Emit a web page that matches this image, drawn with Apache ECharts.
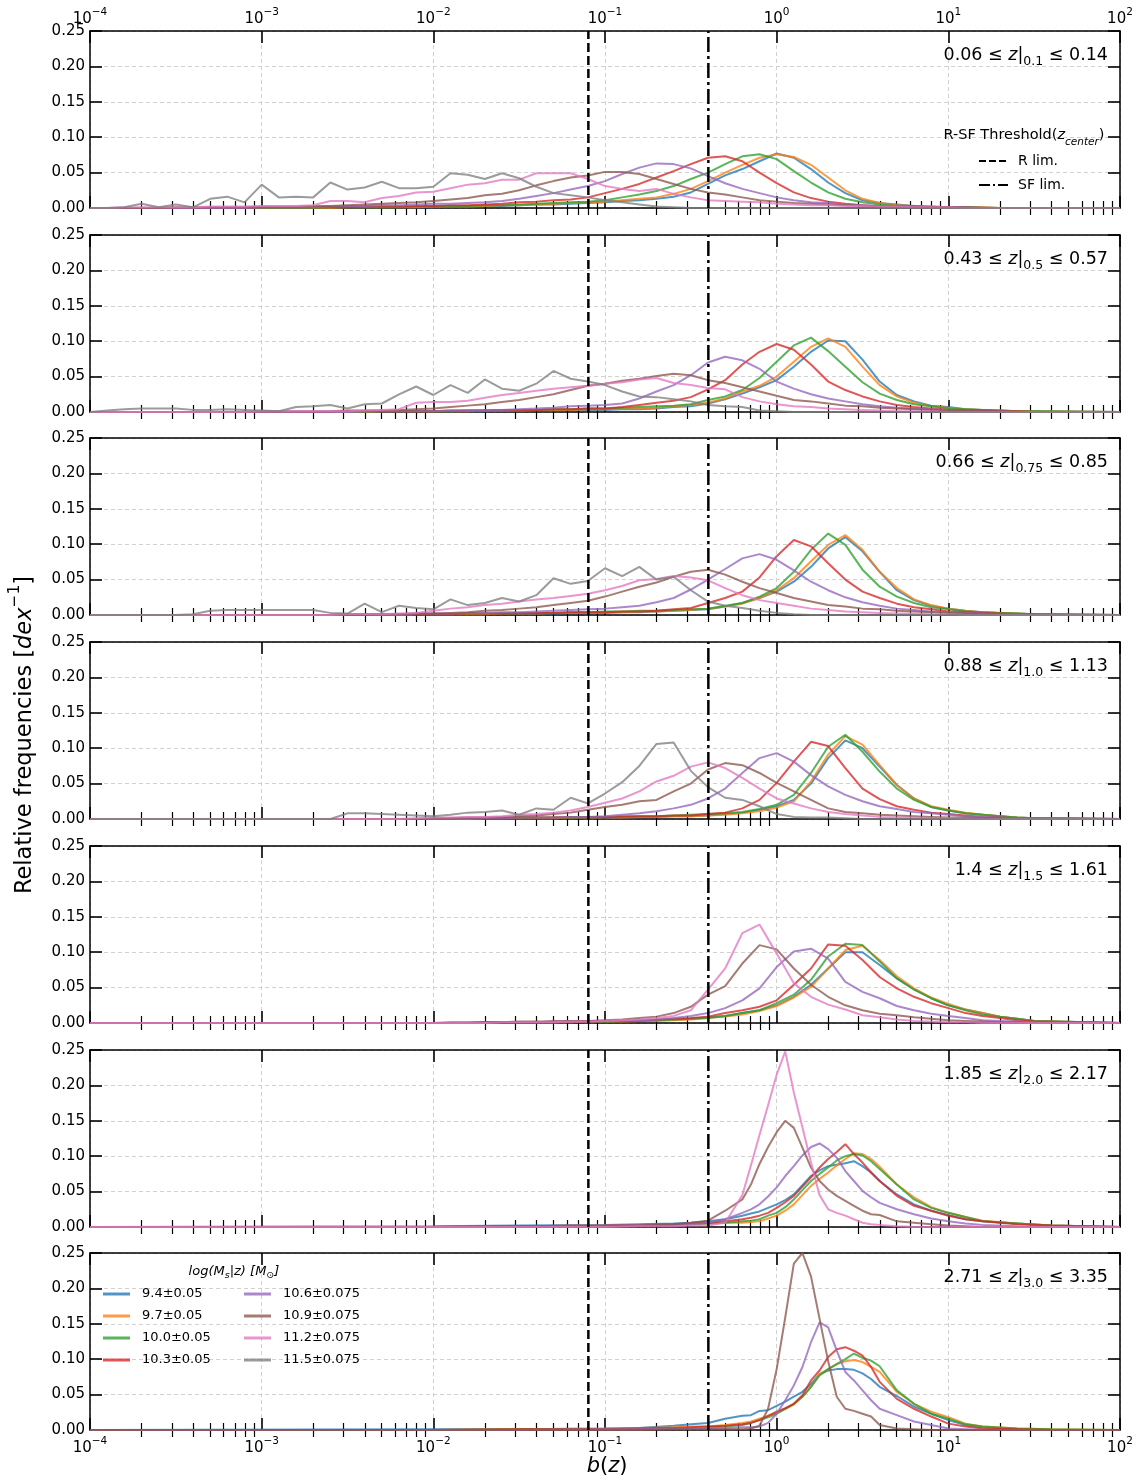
<!DOCTYPE html>
<html><head><meta charset="utf-8">
<script src="https://cdn.jsdelivr.net/npm/echarts@6/dist/echarts.min.js"></script>
<style>html,body{margin:0;padding:0;background:#fff}#c{width:1146px;height:1483px}</style>
</head><body><div id="c"></div>
<script>
// ---------- DATA (x values are log10 b(z)) ----------
const LOGB_A = [-4.0,-3.9,-3.8,-3.7,-3.6,-3.5,-3.4,-3.3,-3.2,-3.1,-3.0,-2.9,-2.8,-2.7,-2.6,-2.5,-2.4,-2.3,-2.2,-2.1,-2.0,-1.9,-1.8,-1.7,-1.6,-1.5,-1.4,-1.3,-1.2,-1.1,-1.0,-0.9,-0.8,-0.7,-0.6,-0.5,-0.4,-0.3,-0.2,-0.1,0.0,0.1,0.2,0.3,0.4,0.5,0.6,0.7,0.8,0.9,1.0,1.1,1.2,1.3,1.4,1.5,2.0];
const LOGB_B = [-4.0,-2.0,-1.5,-1.0,-0.8,-0.6,-0.5,-0.4,-0.3,-0.2,-0.15,-0.1,-0.05,0.0,0.05,0.1,0.15,0.2,0.25,0.3,0.35,0.4,0.45,0.5,0.55,0.6,0.7,0.8,0.9,1.0,1.1,1.2,1.4,1.6,2.0];

const MASS_NAMES = ['9.4±0.05','9.7±0.05','10.0±0.05','10.3±0.05','10.6±0.075','10.9±0.075','11.2±0.075','11.5±0.075'];
const Z_RANGES = [['0.06','0.1','0.14'],['0.43','0.5','0.57'],['0.66','0.75','0.85'],['0.88','1.0','1.13'],['1.4','1.5','1.61'],['1.85','2.0','2.17'],['2.71','3.0','3.35']];
const R_LIM = 0.08, SF_LIM = 0.4;
const Y_TICKS = [0, 0.05, 0.10, 0.15, 0.20, 0.25];

// Panel 1
const P1_M94  = [0,0,0,0,0,0,0,0,0,0, 0,0,0,0,0,0.001,0.001,0.001,0.001,0.001, 0.001,0.002,0.002,0.003,0.003,0.004,0.005,0.005,0.006,0.007, 0.008,0.010,0.011,0.013,0.016,0.022,0.034,0.046,0.055,0.066, 0.077,0.071,0.055,0.036,0.021,0.011,0.007,0.005,0.003,0.002, 0.001,0.001,0.001,0,0,0, 0];
const P1_M97  = [0,0,0,0,0,0,0,0,0,0, 0,0,0,0,0,0.001,0.001,0.001,0.001,0.001, 0.002,0.002,0.002,0.003,0.004,0.004,0.005,0.006,0.007,0.008, 0.009,0.011,0.013,0.015,0.020,0.027,0.038,0.050,0.061,0.071, 0.076,0.072,0.061,0.043,0.025,0.013,0.007,0.004,0.003,0.002, 0.001,0.001,0.001,0,0,0, 0];
const P1_M100 = [0,0,0,0,0,0,0,0,0,0, 0,0,0,0,0.001,0.001,0.001,0.001,0.001,0.002, 0.002,0.003,0.003,0.004,0.004,0.005,0.006,0.007,0.008,0.009, 0.011,0.015,0.019,0.024,0.031,0.041,0.050,0.062,0.073,0.076, 0.069,0.052,0.036,0.022,0.013,0.008,0.005,0.003,0.002,0.001, 0.001,0.001,0,0,0,0, 0];
const P1_M103 = [0,0,0,0,0,0,0,0,0,0, 0.001,0.001,0.001,0.001,0.001,0.001,0.002,0.002,0.002,0.003, 0.003,0.004,0.004,0.005,0.006,0.008,0.009,0.011,0.012,0.015, 0.021,0.027,0.034,0.043,0.052,0.062,0.071,0.073,0.066,0.050, 0.035,0.022,0.014,0.009,0.006,0.004,0.002,0.002,0.001,0.001, 0.001,0,0,0,0,0, 0];
const P1_M106 = [0,0,0,0,0,0,0,0,0,0, 0.001,0.001,0.001,0.001,0.002,0.003,0.003,0.004,0.004,0.005, 0.006,0.006,0.007,0.008,0.010,0.013,0.017,0.021,0.026,0.031, 0.038,0.048,0.057,0.063,0.062,0.056,0.045,0.035,0.027,0.021, 0.015,0.011,0.008,0.007,0.005,0.004,0.003,0.002,0.002,0.001, 0.001,0.001,0,0,0,0, 0];
const P1_M109 = [0,0,0,0,0,0.001,0.001,0.001,0.001,0.001, 0.002,0.002,0.002,0.003,0.003,0.004,0.005,0.006,0.007,0.008, 0.010,0.012,0.014,0.018,0.020,0.025,0.032,0.038,0.043,0.046, 0.051,0.051,0.048,0.041,0.034,0.027,0.022,0.019,0.015,0.011, 0.009,0.007,0.006,0.005,0.004,0.003,0.003,0.002,0.002,0.001, 0.001,0.001,0,0,0,0, 0];
const P1_M112 = [0,0,0.001,0.001,0.001,0.001,0.001,0.002,0.002,0.002, 0.003,0.003,0.003,0.004,0.010,0.010,0.008,0.014,0.017,0.022, 0.023,0.028,0.033,0.035,0.040,0.040,0.049,0.049,0.049,0.041, 0.031,0.027,0.024,0.027,0.020,0.015,0.011,0.010,0.009,0.008, 0.006,0.005,0.004,0.004,0.003,0.003,0.002,0.002,0.001,0.001, 0.001,0,0,0,0,0, 0];
const P1_M115 = [0,0,0.001,0.006,0.001,0.005,0.001,0.013,0.016,0.008, 0.033,0.015,0.016,0.015,0.036,0.026,0.029,0.037,0.028,0.028, 0.030,0.049,0.047,0.041,0.049,0.042,0.030,0.021,0.018,0.015, 0.011,0.008,0.005,0.002,0.001,0,0,0,0,0, 0,0,0,0,0,0,0,0,0,0, 0,0,0,0,0,0, 0];

// Panel 2
const P2_M94  = [0,0,0,0,0,0,0,0,0,0, 0,0,0,0,0,0,0,0.001,0.001,0.001, 0.001,0.001,0.001,0.001,0.002,0.002,0.002,0.002,0.003,0.003, 0.003,0.004,0.004,0.005,0.007,0.008,0.012,0.018,0.026,0.035, 0.045,0.064,0.085,0.101,0.100,0.074,0.043,0.024,0.015,0.009, 0.007,0.004,0.003,0.002,0.001,0.001, 0];
const P2_M97  = [0,0,0,0,0,0,0,0,0,0, 0,0,0,0,0,0,0,0.001,0.001,0.001, 0.001,0.001,0.001,0.002,0.002,0.002,0.003,0.003,0.003,0.004, 0.004,0.005,0.005,0.006,0.008,0.010,0.013,0.019,0.029,0.037, 0.050,0.071,0.092,0.104,0.092,0.064,0.038,0.022,0.013,0.008, 0.006,0.004,0.003,0.002,0.001,0.001, 0];
const P2_M100 = [0,0,0,0,0,0,0,0,0,0, 0,0,0,0,0,0,0,0.001,0.001,0.001, 0.001,0.001,0.002,0.002,0.002,0.003,0.003,0.004,0.004,0.005, 0.005,0.006,0.007,0.008,0.009,0.011,0.017,0.022,0.031,0.048, 0.071,0.094,0.105,0.086,0.064,0.042,0.026,0.017,0.011,0.008, 0.005,0.004,0.003,0.002,0.001,0.001, 0];
const P2_M103 = [0,0,0,0,0,0,0,0,0,0, 0,0,0,0,0,0.001,0.001,0.001,0.001,0.001, 0.001,0.002,0.002,0.002,0.003,0.003,0.003,0.004,0.004,0.005, 0.005,0.007,0.010,0.013,0.016,0.021,0.032,0.045,0.067,0.085, 0.096,0.088,0.067,0.043,0.031,0.022,0.015,0.010,0.007,0.005, 0.003,0.002,0.002,0.001,0.001,0, 0];
const P2_M106 = [0,0,0,0,0,0,0,0,0,0, 0,0,0,0,0,0,0.001,0.001,0.001,0.001, 0.001,0.002,0.002,0.002,0.003,0.004,0.005,0.006,0.008,0.009, 0.010,0.012,0.019,0.029,0.038,0.052,0.070,0.078,0.073,0.061, 0.043,0.033,0.025,0.019,0.015,0.011,0.008,0.006,0.005,0.004, 0.003,0.002,0.001,0.001,0,0, 0];
const P2_M109 = [0,0,0,0,0,0,0,0,0,0, 0.001,0.001,0.001,0.001,0.001,0.002,0.002,0.002,0.003,0.004, 0.005,0.007,0.009,0.011,0.014,0.017,0.021,0.025,0.031,0.037, 0.040,0.044,0.047,0.051,0.054,0.052,0.045,0.041,0.035,0.029, 0.023,0.017,0.015,0.012,0.009,0.008,0.006,0.005,0.004,0.003, 0.002,0.002,0.001,0.001,0,0, 0];
const P2_M112 = [0,0,0,0,0,0,0,0,0,0, 0.001,0.001,0.001,0.001,0.001,0.001,0.002,0.003,0.004,0.013, 0.014,0.014,0.016,0.020,0.024,0.027,0.030,0.033,0.035,0.037, 0.040,0.042,0.046,0.048,0.041,0.038,0.034,0.032,0.021,0.015, 0.011,0.008,0.007,0.005,0.004,0.003,0.002,0.001,0.001,0.001, 0,0,0,0,0,0, 0];
const P2_M115 = [0,0.002,0.004,0.005,0.005,0.005,0.003,0.003,0.004,0.003, 0.002,0.001,0.007,0.008,0.010,0.005,0.011,0.012,0.025,0.036, 0.024,0.038,0.027,0.046,0.033,0.030,0.040,0.058,0.047,0.043, 0.038,0.029,0.022,0.021,0.018,0.015,0.010,0.008,0.007,0.002, 0.001,0,0,0,0,0,0,0,0,0, 0,0,0,0,0,0, 0];

// Panel 3
const P3_M94  = [0,0,0,0,0,0,0,0,0,0, 0,0,0,0,0,0,0,0,0,0.001, 0.001,0.001,0.001,0.001,0.002,0.002,0.002,0.002,0.003,0.003, 0.003,0.004,0.004,0.005,0.006,0.007,0.008,0.012,0.017,0.024, 0.033,0.047,0.068,0.094,0.110,0.090,0.061,0.035,0.021,0.013, 0.009,0.006,0.004,0.003,0.002,0.001, 0];
const P3_M97  = [0,0,0,0,0,0,0,0,0,0, 0,0,0,0,0,0,0,0,0,0.001, 0.001,0.001,0.001,0.001,0.002,0.002,0.002,0.003,0.003,0.003, 0.004,0.004,0.005,0.005,0.006,0.007,0.009,0.012,0.016,0.024, 0.035,0.052,0.076,0.099,0.113,0.092,0.061,0.038,0.022,0.014, 0.009,0.006,0.004,0.003,0.002,0.001, 0];
const P3_M100 = [0,0,0,0,0,0,0,0,0,0, 0,0,0,0,0,0,0,0,0.001,0.001, 0.001,0.001,0.002,0.002,0.002,0.003,0.003,0.003,0.004,0.004, 0.005,0.005,0.006,0.006,0.007,0.008,0.009,0.013,0.017,0.026, 0.038,0.061,0.092,0.115,0.099,0.064,0.040,0.026,0.017,0.011, 0.008,0.005,0.004,0.003,0.002,0.001, 0];
const P3_M103 = [0,0,0,0,0,0,0,0,0,0, 0,0,0,0,0,0,0,0.001,0.001,0.001, 0.001,0.001,0.002,0.002,0.002,0.003,0.003,0.003,0.004,0.004, 0.004,0.005,0.005,0.006,0.008,0.010,0.017,0.024,0.033,0.053, 0.083,0.106,0.097,0.073,0.050,0.033,0.024,0.016,0.011,0.008, 0.005,0.004,0.003,0.002,0.001,0.001, 0];
const P3_M106 = [0,0,0,0,0,0,0,0,0,0, 0,0,0,0,0,0.001,0.001,0.001,0.001,0.002, 0.002,0.002,0.003,0.003,0.004,0.004,0.005,0.006,0.007,0.008, 0.009,0.011,0.013,0.018,0.024,0.036,0.050,0.065,0.080,0.086, 0.078,0.063,0.047,0.035,0.025,0.018,0.013,0.009,0.007,0.005, 0.004,0.003,0.002,0.001,0.001,0, 0];
const P3_M109 = [0,0,0,0,0,0,0,0,0,0, 0,0,0,0,0,0.001,0.001,0.001,0.001,0.002, 0.002,0.003,0.004,0.006,0.007,0.009,0.011,0.014,0.017,0.020, 0.026,0.033,0.040,0.046,0.054,0.061,0.064,0.057,0.047,0.038, 0.031,0.024,0.019,0.014,0.012,0.009,0.008,0.006,0.005,0.004, 0.003,0.002,0.001,0.001,0,0, 0];
const P3_M112 = [0,0,0,0,0,0,0,0,0,0, 0,0,0,0,0,0.001,0.001,0.001,0.002,0.003, 0.006,0.009,0.011,0.014,0.016,0.019,0.022,0.024,0.027,0.030, 0.035,0.041,0.049,0.051,0.055,0.053,0.049,0.038,0.028,0.021, 0.017,0.013,0.009,0.007,0.005,0.004,0.003,0.002,0.002,0.001, 0.001,0,0,0,0,0, 0];
const P3_M115 = [0,0,0,0,0,0,0.001,0.006,0.007,0.007, 0.007,0.007,0.007,0.007,0.003,0.002,0.016,0.004,0.013,0.010, 0.008,0.022,0.014,0.017,0.024,0.019,0.028,0.052,0.044,0.048, 0.066,0.055,0.068,0.050,0.054,0.035,0.019,0.013,0.010,0.006, 0.003,0.001,0,0,0,0,0,0,0,0, 0,0,0,0,0,0, 0];

// Panel 4
const P4_M94  = [0,0,0,0,0,0,0,0,0,0, 0,0,0,0,0,0,0,0,0,0, 0,0,0,0.001,0.001,0.001,0.001,0.001,0.002,0.002, 0.002,0.002,0.003,0.003,0.004,0.004,0.005,0.007,0.009,0.013, 0.018,0.027,0.050,0.086,0.111,0.100,0.074,0.048,0.029,0.017, 0.012,0.008,0.006,0.004,0.002,0.001, 0];
const P4_M97  = [0,0,0,0,0,0,0,0,0,0, 0,0,0,0,0,0,0,0,0,0, 0,0,0,0.001,0.001,0.001,0.001,0.001,0.002,0.002, 0.002,0.002,0.003,0.003,0.004,0.004,0.005,0.006,0.008,0.011, 0.016,0.025,0.053,0.091,0.117,0.105,0.076,0.048,0.029,0.018, 0.013,0.009,0.006,0.004,0.002,0.001, 0];
const P4_M100 = [0,0,0,0,0,0,0,0,0,0, 0,0,0,0,0,0,0,0,0,0, 0,0,0.001,0.001,0.001,0.001,0.002,0.002,0.002,0.003, 0.003,0.003,0.004,0.004,0.005,0.006,0.007,0.008,0.010,0.014, 0.020,0.034,0.065,0.102,0.119,0.095,0.067,0.043,0.027,0.017, 0.012,0.008,0.006,0.004,0.002,0.001, 0];
const P4_M103 = [0,0,0,0,0,0,0,0,0,0, 0,0,0,0,0,0,0,0,0,0, 0,0.001,0.001,0.001,0.001,0.002,0.002,0.002,0.003,0.003, 0.003,0.004,0.004,0.004,0.005,0.005,0.007,0.009,0.015,0.027, 0.051,0.081,0.109,0.103,0.072,0.043,0.028,0.018,0.013,0.009, 0.007,0.005,0.003,0.002,0.001,0.001, 0];
const P4_M106 = [0,0,0,0,0,0,0,0,0,0, 0,0,0,0,0,0,0,0,0,0, 0,0.001,0.001,0.001,0.001,0.002,0.002,0.002,0.003,0.003, 0.004,0.006,0.008,0.011,0.015,0.020,0.029,0.043,0.065,0.086, 0.093,0.081,0.062,0.046,0.034,0.025,0.018,0.014,0.010,0.008, 0.006,0.004,0.003,0.002,0.001,0.001, 0];
const P4_M109 = [0,0,0,0,0,0,0,0,0,0, 0,0,0,0,0,0,0,0,0,0, 0.001,0.001,0.002,0.002,0.003,0.004,0.005,0.007,0.009,0.013, 0.017,0.020,0.025,0.027,0.039,0.050,0.070,0.079,0.076,0.065, 0.051,0.039,0.027,0.015,0.010,0.008,0.006,0.005,0.004,0.003, 0.002,0.002,0.001,0.001,0,0, 0];
const P4_M112 = [0,0,0,0,0,0,0,0,0,0, 0,0,0,0,0,0,0,0,0,0.001, 0.002,0.002,0.003,0.003,0.004,0.006,0.007,0.009,0.012,0.017, 0.023,0.029,0.039,0.053,0.061,0.074,0.080,0.072,0.058,0.043, 0.029,0.022,0.015,0.010,0.007,0.005,0.003,0.002,0.002,0.001, 0.001,0,0,0,0,0, 0];
const P4_M115 = [0,0,0,0,0,0,0,0,0,0, 0,0,0,0,0,0.008,0.008,0.007,0.006,0.005, 0.004,0.006,0.009,0.010,0.012,0.006,0.015,0.013,0.030,0.022, 0.036,0.052,0.075,0.106,0.108,0.068,0.045,0.030,0.027,0.018, 0.007,0.003,0.002,0.002,0.001,0,0,0,0,0, 0,0,0,0,0,0, 0];

// Panel 5
const P5_M94  = [0,0,0,0,0,0,0,0,0,0, 0,0,0,0,0,0,0,0,0,0, 0,0,0,0,0.001,0.001,0.001,0.001,0.002,0.002, 0.002,0.003,0.003,0.004,0.005,0.006,0.008,0.010,0.014,0.018, 0.025,0.037,0.054,0.077,0.100,0.100,0.082,0.063,0.048,0.035, 0.025,0.019,0.014,0.009,0.006,0.003, 0];
const P5_M97  = [0,0,0,0,0,0,0,0,0,0, 0,0,0,0,0,0,0,0,0,0, 0,0,0,0,0.001,0.001,0.001,0.001,0.001,0.002, 0.002,0.002,0.003,0.003,0.004,0.005,0.007,0.009,0.012,0.017, 0.024,0.036,0.051,0.077,0.103,0.109,0.089,0.066,0.049,0.036, 0.027,0.019,0.014,0.009,0.006,0.003, 0];
const P5_M100 = [0,0,0,0,0,0,0,0,0,0, 0,0,0,0,0,0,0,0,0,0, 0,0,0,0,0.001,0.001,0.001,0.001,0.002,0.002, 0.002,0.003,0.003,0.004,0.005,0.006,0.007,0.010,0.014,0.018, 0.028,0.040,0.061,0.094,0.112,0.110,0.087,0.063,0.047,0.035, 0.025,0.018,0.012,0.009,0.006,0.003, 0];
const P5_M103 = [0,0,0,0,0,0,0,0,0,0, 0,0,0,0,0,0,0,0,0,0, 0,0,0,0.001,0.001,0.001,0.001,0.002,0.002,0.002, 0.003,0.003,0.004,0.005,0.006,0.007,0.009,0.014,0.018,0.023, 0.032,0.054,0.077,0.111,0.109,0.089,0.065,0.049,0.037,0.028, 0.021,0.014,0.010,0.007,0.004,0.002, 0];
const P5_M106 = [0,0,0,0,0,0,0,0,0,0, 0,0,0,0,0,0,0,0,0,0, 0,0,0,0.001,0.001,0.001,0.001,0.002,0.002,0.002, 0.003,0.003,0.004,0.005,0.007,0.010,0.014,0.021,0.032,0.049, 0.079,0.101,0.105,0.091,0.058,0.044,0.035,0.024,0.018,0.013, 0.010,0.007,0.004,0.003,0.002,0.001, 0];
const P5_M109 = [0,0,0,0,0,0,0,0,0,0, 0,0,0,0,0,0,0,0,0,0, 0,0.001,0.001,0.001,0.001,0.002,0.002,0.002,0.003,0.003, 0.004,0.005,0.007,0.009,0.014,0.023,0.040,0.052,0.084,0.110, 0.104,0.077,0.054,0.037,0.025,0.018,0.013,0.011,0.008,0.006, 0.004,0.003,0.002,0.001,0.001,0, 0];
const P5_M112 = [0,0,0,0,0,0,0,0,0,0, 0,0,0,0,0,0,0,0,0,0, 0,0,0,0,0.001,0.001,0.001,0.001,0.002,0.002, 0.003,0.004,0.005,0.007,0.010,0.018,0.047,0.077,0.127,0.139, 0.098,0.056,0.037,0.026,0.019,0.011,0.008,0.005,0.003,0.002, 0.001,0.001,0,0,0,0, 0];

// Panel 6 (on LOGB_B)
const P6_M94  = [0,0.001,0.002,0.003,0.004,0.005, 0.006,0.008,0.011,0.016,0.019,0.022,0.027, 0.032,0.038,0.046,0.059,0.072,0.080,0.086,0.088,0.090,0.093,0.086,0.077,0.065, 0.046,0.032,0.023,0.017,0.011,0.008,0.005,0.002,0];
const P6_M97  = [0,0,0.001,0.002,0.003,0.003, 0.004,0.005,0.006,0.006,0.007,0.008,0.012, 0.016,0.023,0.032,0.045,0.058,0.068,0.077,0.087,0.096,0.104,0.103,0.096,0.085, 0.060,0.042,0.028,0.020,0.014,0.009,0.005,0.002,0];
const P6_M100 = [0,0,0.001,0.002,0.003,0.003, 0.004,0.005,0.006,0.008,0.009,0.011,0.016, 0.020,0.028,0.039,0.052,0.065,0.075,0.084,0.094,0.100,0.103,0.101,0.093,0.082, 0.060,0.039,0.027,0.020,0.014,0.008,0.005,0.002,0];
const P6_M103 = [0,0,0.001,0.002,0.003,0.004, 0.005,0.006,0.008,0.011,0.013,0.016,0.020, 0.027,0.035,0.044,0.057,0.070,0.084,0.096,0.106,0.117,0.103,0.091,0.077,0.065, 0.044,0.030,0.023,0.016,0.011,0.008,0.004,0.002,0];
const P6_M106 = [0,0,0.001,0.002,0.003,0.004, 0.004,0.006,0.011,0.020,0.025,0.032,0.043, 0.056,0.072,0.086,0.101,0.113,0.118,0.110,0.098,0.079,0.065,0.051,0.042,0.034, 0.025,0.018,0.012,0.008,0.005,0.003,0.001,0,0];
const P6_M109 = [0,0,0.001,0.001,0.002,0.004, 0.006,0.009,0.023,0.039,0.060,0.089,0.113, 0.134,0.150,0.140,0.112,0.084,0.065,0.053,0.044,0.037,0.030,0.023,0.018,0.017, 0.008,0.006,0.004,0.002,0.001,0,0,0,0];
const P6_M112 = [0,0,0,0,0.001,0.001, 0.002,0.002,0.006,0.045,0.087,0.130,0.172, 0.215,0.248,0.190,0.141,0.091,0.045,0.025,0.020,0.016,0.011,0.006,0.004,0.003, 0.001,0,0,0,0,0,0,0,0];

// Panel 7 (on LOGB_B)
const P7_M94  = [0,0.001,0.001,0.002,0.003,0.006, 0.008,0.010,0.016,0.020,0.021,0.027,0.028, 0.034,0.040,0.047,0.054,0.065,0.079,0.084,0.086,0.086,0.085,0.080,0.072,0.061, 0.048,0.033,0.023,0.014,0.007,0.004,0.001,0,0];
const P7_M97  = [0,0,0.001,0.002,0.003,0.004, 0.005,0.005,0.007,0.010,0.012,0.016,0.020, 0.024,0.030,0.036,0.047,0.061,0.079,0.086,0.093,0.097,0.099,0.096,0.089,0.082, 0.054,0.037,0.026,0.018,0.009,0.005,0.002,0.001,0];
const P7_M100 = [0,0,0.001,0.001,0.002,0.003, 0.003,0.004,0.005,0.007,0.010,0.014,0.018, 0.023,0.030,0.037,0.047,0.061,0.077,0.086,0.093,0.100,0.108,0.102,0.098,0.090, 0.056,0.037,0.023,0.016,0.008,0.005,0.002,0.001,0];
const P7_M103 = [0,0,0.001,0.001,0.002,0.003, 0.004,0.005,0.006,0.008,0.010,0.014,0.020, 0.026,0.031,0.037,0.049,0.070,0.084,0.103,0.114,0.117,0.112,0.105,0.089,0.068, 0.044,0.030,0.019,0.009,0.005,0.002,0.001,0,0];
const P7_M106 = [0,0,0,0.001,0.001,0.002, 0.002,0.003,0.003,0.004,0.004,0.005,0.010, 0.023,0.042,0.063,0.089,0.124,0.152,0.145,0.112,0.082,0.070,0.056,0.042,0.030, 0.021,0.012,0.007,0.002,0.001,0,0,0,0];
const P7_M109 = [0,0,0,0,0,0.001, 0.001,0.001,0.001,0.001,0.002,0.006,0.030, 0.086,0.159,0.235,0.250,0.217,0.157,0.097,0.047,0.030,0.027,0.023,0.019,0.007, 0.002,0.001,0,0,0,0,0,0,0];

// ---------- STYLE / LAYOUT ----------
const FONT = 'DejaVu Sans';
const COLORS = ['rgba(31,119,180,0.78)','rgba(255,127,14,0.78)','rgba(44,160,44,0.78)','rgba(214,39,40,0.78)','rgba(148,103,189,0.78)','rgba(140,86,75,0.78)','rgba(227,119,194,0.78)','rgba(127,127,127,0.78)'];
const PANEL_TOPS = [31, 235, 438, 642, 846, 1050, 1253];
const PANEL_H = 177, PLOT_LEFT = 90, PLOT_W = 1030;

const PANELS = [
  {x: LOGB_A, ys: [P1_M94,P1_M97,P1_M100,P1_M103,P1_M106,P1_M109,P1_M112,P1_M115]},
  {x: LOGB_A, ys: [P2_M94,P2_M97,P2_M100,P2_M103,P2_M106,P2_M109,P2_M112,P2_M115]},
  {x: LOGB_A, ys: [P3_M94,P3_M97,P3_M100,P3_M103,P3_M106,P3_M109,P3_M112,P3_M115]},
  {x: LOGB_A, ys: [P4_M94,P4_M97,P4_M100,P4_M103,P4_M106,P4_M109,P4_M112,P4_M115]},
  {x: LOGB_A, ys: [P5_M94,P5_M97,P5_M100,P5_M103,P5_M106,P5_M109,P5_M112,null]},
  {x: LOGB_B, ys: [P6_M94,P6_M97,P6_M100,P6_M103,P6_M106,P6_M109,P6_M112,null]},
  {x: LOGB_B, ys: [P7_M94,P7_M97,P7_M100,P7_M103,P7_M106,P7_M109,null,null]}
];

const MINOR = [];
for (let k = -4; k < 2; k++) for (let m = 2; m <= 9; m++) MINOR.push(k + Math.log10(m));

const expLabel = v => { const e = Math.round(v); return '{b|10}{s|' + (e < 0 ? '\u2212' + (-e) : e) + '}'; };
const expRich = {
  b: {fontFamily: FONT, fontSize: 15, color: '#000', lineHeight: 20, verticalAlign: 'bottom'},
  s: {fontFamily: FONT, fontSize: 10.5, color: '#000', lineHeight: 10, verticalAlign: 'top'}
};
const gridLine = {show: true, lineStyle: {color: '#cccccc', width: 0.9, type: [4, 3]}};
const spine = {show: true, onZero: false, lineStyle: {color: '#000', width: 1.5}};
const majorTick = {show: true, inside: true, length: 12, lineStyle: {color: '#000', width: 1.6}};
const minorTick = {show: true, inside: true, length: 7, customValues: MINOR, lineStyle: {color: '#000', width: 1.2}};

const grids = [], xAxes = [], yAxes = [], series = [], graphics = [];

PANELS.forEach((p, k) => {
  grids.push({left: PLOT_LEFT, width: PLOT_W, top: PANEL_TOPS[k], height: PANEL_H});
  const base = {type: 'value', gridIndex: k, min: -4, max: 2, interval: 1};
  const xl = {formatter: expLabel, rich: expRich, fontFamily: FONT, fontSize: 15, color: '#000'};
  xAxes.push(Object.assign({}, base, {position: 'bottom', axisLine: spine, axisTick: majorTick,
    axisLabel: Object.assign({show: k === 6, margin: 6}, xl), splitLine: gridLine}));
  xAxes.push(Object.assign({}, base, {position: 'bottom', axisLine: {show: false}, axisTick: minorTick,
    axisLabel: {show: false}, splitLine: {show: false}}));
  xAxes.push(Object.assign({}, base, {position: 'top', axisLine: spine, axisTick: majorTick,
    axisLabel: Object.assign({show: k === 0, margin: 4}, xl), splitLine: {show: false}}));
  xAxes.push(Object.assign({}, base, {position: 'top', axisLine: {show: false}, axisTick: minorTick,
    axisLabel: {show: false}, splitLine: {show: false}}));
  const ybase = {type: 'value', gridIndex: k, min: Y_TICKS[0], max: Y_TICKS[Y_TICKS.length - 1], interval: 0.05};
  yAxes.push(Object.assign({}, ybase, {position: 'left', axisLine: spine, axisTick: majorTick,
    axisLabel: {fontFamily: FONT, fontSize: 15, color: '#000', margin: 5, formatter: v => v.toFixed(2)},
    splitLine: gridLine}));
  yAxes.push(Object.assign({}, ybase, {position: 'right', axisLine: spine, axisTick: majorTick,
    axisLabel: {show: false}, splitLine: {show: false}}));

  p.ys.forEach((ys, i) => {
    if (!ys) return;
    series.push({
      type: 'line', name: MASS_NAMES[i], xAxisIndex: 4 * k, yAxisIndex: 2 * k,
      data: p.x.map((xv, j) => [xv, ys[j]]),
      color: COLORS[i], symbol: 'none', showSymbol: false, silent: true,
      lineStyle: {width: 2, color: COLORS[i]}, z: 2
    });
  });
  series.push({type: 'line', name: 'R lim.', xAxisIndex: 4 * k, yAxisIndex: 2 * k, silent: true, symbol: 'none',
    data: [[Math.log10(R_LIM), Y_TICKS[0]], [Math.log10(R_LIM), Y_TICKS[5]]],
    lineStyle: {color: '#000', width: 2.5, type: [9, 4]}, color: '#000', z: 5});
  series.push({type: 'line', name: 'SF lim.', xAxisIndex: 4 * k, yAxisIndex: 2 * k, silent: true, symbol: 'none',
    data: [[Math.log10(SF_LIM), Y_TICKS[0]], [Math.log10(SF_LIM), Y_TICKS[5]]],
    lineStyle: {color: '#000', width: 2.5, type: [15, 4, 3, 4]}, color: '#000', z: 5});

  const zr = Z_RANGES[k];
  graphics.push({type: 'text', x: 1108, y: PANEL_TOPS[k] + 26, z: 10,
    style: {text: '{n|' + zr[0] + ' \u2264 }{i|z}{n||}{sub|' + zr[1] + '}{n| \u2264 ' + zr[2] + '}',
      textAlign: 'right', textVerticalAlign: 'middle',
      rich: {
        n: {fontFamily: FONT, fontSize: 17.5, fill: '#000', lineHeight: 22, verticalAlign: 'top'},
        i: {fontFamily: FONT, fontSize: 17.5, fontStyle: 'italic', fill: '#000', lineHeight: 22, verticalAlign: 'top'},
        sub: {fontFamily: FONT, fontSize: 12.5, fill: '#000', lineHeight: 12, verticalAlign: 'bottom'}
      }}});
});

// Threshold legend (panel 1)
graphics.push({type: 'text', x: 1024, y: 138, z: 10, style: {
  text: '{n|R-SF Threshold(}{i|z}{sub|center}{n|)}', textAlign: 'center', textVerticalAlign: 'middle',
  rich: {
    n: {fontFamily: FONT, fontSize: 14.5, fill: '#000', lineHeight: 20, verticalAlign: 'top'},
    i: {fontFamily: FONT, fontSize: 14.5, fontStyle: 'italic', fill: '#000', lineHeight: 20, verticalAlign: 'top'},
    sub: {fontFamily: FONT, fontSize: 10.5, fontStyle: 'italic', fill: '#000', lineHeight: 10, verticalAlign: 'bottom'}
  }}});
graphics.push({type: 'line', z: 10, shape: {x1: 979, y1: 161, x2: 1008, y2: 161}, style: {stroke: '#000', lineWidth: 2, lineDash: [7, 3]}});
graphics.push({type: 'line', z: 10, shape: {x1: 979, y1: 185, x2: 1008, y2: 185}, style: {stroke: '#000', lineWidth: 2, lineDash: [11, 3, 2, 3]}});
graphics.push({type: 'text', x: 1018, y: 161, z: 10, style: {text: 'R lim.', fontFamily: FONT, fontSize: 14, fill: '#000', textVerticalAlign: 'middle'}});
graphics.push({type: 'text', x: 1018, y: 185, z: 10, style: {text: 'SF lim.', fontFamily: FONT, fontSize: 14, fill: '#000', textVerticalAlign: 'middle'}});

// Mass legend title
graphics.push({type: 'text', x: 234, y: 1273, z: 10, style: {
  text: '{i|log(M}{sub|s}{i||z) [M}{sub|\u2299}{i|]}', textAlign: 'center', textVerticalAlign: 'middle',
  rich: {
    i: {fontFamily: FONT, fontSize: 13, fontStyle: 'italic', fill: '#000', lineHeight: 16, verticalAlign: 'top'},
    sub: {fontFamily: FONT, fontSize: 9.5, fontStyle: 'italic', fill: '#000', lineHeight: 10, verticalAlign: 'bottom'}
  }}});

// Axis titles
graphics.push({type: 'text', x: 22, y: 735, rotation: Math.PI / 2, z: 10, style: {
  text: '{n|Relative frequencies [}{i|dex}{sup|\u22121}{n|]}', textAlign: 'center', textVerticalAlign: 'middle',
  rich: {
    n: {fontFamily: FONT, fontSize: 22.5, fill: '#000', lineHeight: 30, verticalAlign: 'bottom'},
    i: {fontFamily: FONT, fontSize: 22.5, fontStyle: 'italic', fill: '#000', lineHeight: 30, verticalAlign: 'bottom'},
    sup: {fontFamily: FONT, fontSize: 15.5, fill: '#000', lineHeight: 15, verticalAlign: 'top'}
  }}});
graphics.push({type: 'text', x: 607, y: 1467, z: 10, style: {
  text: '{i|b}{n|(}{i|z}{n|)}', textAlign: 'center', textVerticalAlign: 'middle',
  rich: {
    n: {fontFamily: FONT, fontSize: 21, fill: '#000'},
    i: {fontFamily: FONT, fontSize: 21, fontStyle: 'italic', fill: '#000'}
  }}});

const chart = echarts.init(document.getElementById('c'), null, {renderer: 'canvas'});
chart.setOption({
  animation: false,
  backgroundColor: '#fff',
  grid: grids, xAxis: xAxes, yAxis: yAxes, series: series, graphic: graphics,
  legend: {
    data: MASS_NAMES, orient: 'vertical', left: 103, top: 1286, height: 90, padding: 0,
    itemGap: 6, itemWidth: 27, itemHeight: 3, icon: 'rect', selectedMode: false,
    textStyle: {fontFamily: FONT, fontSize: 13, color: '#000', lineHeight: 16, width: 96, padding: [0, 0, 0, 7]}
  }
});
</script>
</body></html>
